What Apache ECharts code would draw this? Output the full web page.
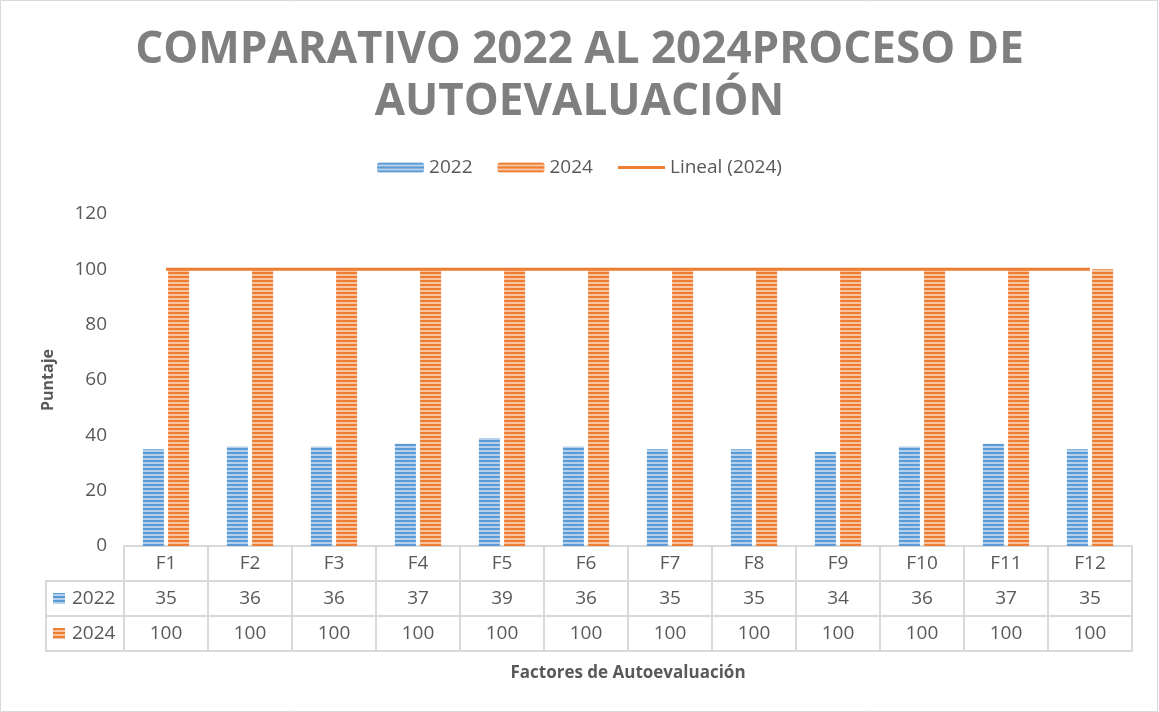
<!DOCTYPE html>
<html><head><meta charset="utf-8">
<script src="https://cdn.jsdelivr.net/npm/echarts@6/dist/echarts.min.js"></script>
<style>html,body{margin:0;padding:0;background:#fff}#c{width:1159px;height:712px;}</style>
</head><body><div id="c"></div>
<script>
const categories = ['F1','F2','F3','F4','F5','F6','F7','F8','F9','F10','F11','F12'];
const values2022 = [35,36,36,37,39,36,35,35,34,36,37,35];
const values2024 = [100,100,100,100,100,100,100,100,100,100,100,100];
const seriesNames = ['2022','2024','Lineal (2024)'];
const titleText = 'COMPARATIVO 2022 AL 2024PROCESO DE\nAUTOEVALUACIÓN';
const yAxisName = 'Puntaje';
const xAxisName = 'Factores de Autoevaluación';

// linear trendline (least squares) of the 2024 series
function linearTrend(vals){
  const n = vals.length; let sx=0, sy=0, sxy=0, sxx=0;
  vals.forEach((v,i)=>{const x=i+1; sx+=x; sy+=v; sxy+=x*v; sxx+=x*x;});
  const b = (n*sxy - sx*sy)/(n*sxx - sx*sx); const a = (sy - b*sx)/n;
  return vals.map((_,i)=>+(a+b*(i+1)).toFixed(4));
}
const trend2024 = linearTrend(values2024);

const FONT = '"Open Sans", "Liberation Sans", sans-serif';
const TXT = '#595959';
const LINE = '#d9d9d9';
const BLUE = '#5B9BD5', BLUE_L = '#b4d0ec';
const ORANGE = '#ED7D31', ORANGE_L = '#f7c3a0';

function stripes(dark, light){
  const c = document.createElement('canvas'); c.width = 4; c.height = 4;
  const g = c.getContext('2d');
  g.fillStyle = light; g.fillRect(0,0,4,4);
  g.fillStyle = dark; g.fillRect(0,0,4,2);
  return {image: c, repeat: 'repeat'};
}
const blueFill = stripes(BLUE, BLUE_L);
const orangeFill = stripes(ORANGE, ORANGE_L);

const W = 1159, H = 712;
const G = {left:124, right:27, top:214, bottom:166};
const ROW = 35;
const axisY = H - G.bottom;
const tabLeft = 46;

const chart = echarts.init(document.getElementById('c'), null, {renderer:'canvas'});
const lbl = {interval:0, margin:8, color:TXT, fontSize:19, lineHeight:19, fontFamily:FONT};
const tl = {show:true, lineStyle:{color:LINE, width:2}};
const lineIcon = 'path://M0 0H47V0.01H0Z M0 3.5H47V6.5H0Z M0 9.99H47V10H0Z';

chart.setOption({
  backgroundColor:'#fff',
  animation:false,
  title:{
    text:titleText, left:'center', top:19,
    textStyle:{fontFamily:FONT, fontSize:44, fontWeight:'bold', color:'#7f7f7f', lineHeight:52}
  },
  legend:{
    top:153, left:'center', itemWidth:47, itemHeight:10, itemGap:25,
    data:[{name:seriesNames[0]},{name:seriesNames[1]},{name:seriesNames[2], icon:lineIcon}],
    textStyle:{color:TXT, fontSize:19, fontFamily:FONT}
  },
  grid:{left:G.left, right:G.right, top:G.top, bottom:G.bottom, containLabel:false},
  xAxis:[
    {type:'category', data:categories, position:'bottom', axisLine:tl,
     axisTick:{show:true, interval:0, length:ROW*3, lineStyle:{color:LINE, width:2}},
     axisLabel:lbl},
    {type:'category', data:categories, position:'bottom', offset:ROW, axisLine:tl, axisTick:{show:false},
     axisLabel:Object.assign({}, lbl, {formatter:(v,i)=>String(values2022[i])})},
    {type:'category', data:categories, position:'bottom', offset:ROW*2, axisLine:tl, axisTick:{show:false},
     axisLabel:Object.assign({}, lbl, {formatter:(v,i)=>String(values2024[i])})},
    {type:'category', data:categories, position:'bottom', offset:ROW*3, axisLine:tl, axisTick:{show:false},
     axisLabel:{show:false},
     name:xAxisName, nameLocation:'middle', nameGap:14,
     nameTextStyle:{color:TXT, fontSize:17, fontWeight:'bold', fontFamily:FONT}}
  ],
  yAxis:{
    type:'value', min:0, max:120, interval:20,
    axisLine:{show:false}, axisTick:{show:false}, splitLine:{show:false},
    axisLabel:{color:TXT, fontSize:19, margin:17, fontFamily:FONT},
    name:yAxisName, nameLocation:'middle', nameGap:68, nameRotate:90,
    nameTextStyle:{color:TXT, fontSize:16, fontWeight:'bold', fontFamily:FONT}
  },
  series:[
    {name:seriesNames[0], type:'bar', data:values2022, barWidth:21, barGap:'20%',
     itemStyle:{color:blueFill}},
    {name:seriesNames[1], type:'bar', data:values2024, barWidth:21, barGap:'20%',
     itemStyle:{color:orangeFill}},
    {name:seriesNames[2], type:'line', data:trend2024, symbol:'none', showSymbol:false, z:5,
     lineStyle:{color:ORANGE, width:3}, itemStyle:{color:ORANGE}}
  ],
  graphic:[
    {type:'rect', shape:{x:0.5, y:0.5, width:W-2, height:H-1}, style:{fill:null, stroke:LINE, lineWidth:1}, silent:true},
    {type:'polyline', shape:{points:[[G.left,axisY+ROW],[tabLeft,axisY+ROW],[tabLeft,axisY+ROW*3],[G.left,axisY+ROW*3]]},
     style:{stroke:LINE, lineWidth:2, fill:null}},
    {type:'line', shape:{x1:tabLeft, y1:axisY+ROW*2, x2:G.left, y2:axisY+ROW*2}, style:{stroke:LINE, lineWidth:2}},
    {type:'rect', shape:{x:53, y:axisY+ROW*1.5-5.5, width:12, height:11}, style:{fill:blueFill}},
    {type:'rect', shape:{x:53, y:axisY+ROW*2.5-5.5, width:12, height:11}, style:{fill:orangeFill}},
    {type:'text', x:72, y:axisY+ROW*1.5, style:{text:seriesNames[0], fill:TXT, font:'19px '+FONT, verticalAlign:'middle'}},
    {type:'text', x:72, y:axisY+ROW*2.5, style:{text:seriesNames[1], fill:TXT, font:'19px '+FONT, verticalAlign:'middle'}}
  ]
});
</script>
</body></html>
